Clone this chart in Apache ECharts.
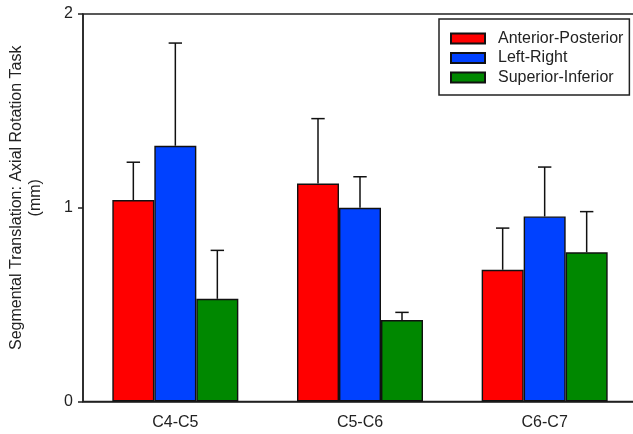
<!DOCTYPE html>
<html lang="en">
<head>
    <meta charset="UTF-8">
    <script src="https://cdn.jsdelivr.net/npm/echarts@6/dist/echarts.min.js"></script>
    <title>Segmental Translation</title>
    <style>
        html, body { margin: 0; padding: 0; background: #fff; }
    </style>
</head>
<body>
<div id="main" style="width: 633px;height:434px;"></div>
<script type="text/javascript">
    // data
    var categories = ['C4-C5', 'C5-C6', 'C6-C7'];
    var seriesNames = ['Anterior-Posterior', 'Left-Right', 'Superior-Inferior'];
    var apMean = [1.04, 1.125, 0.68];
    var apErr = [0.195, 0.335, 0.215];
    var lrMean = [1.32, 1.00, 0.955];
    var lrErr = [0.53, 0.16, 0.255];
    var siMean = [0.53, 0.42, 0.77];
    var siErr = [0.25, 0.04, 0.21];
    var yTicks = [0, 1, 2];

    var colors = ['#ff0000', '#0041ff', '#008800'];
    var fontName = 'Liberation Sans, Arial, sans-serif';
    var barW = 42;

    var myChart = echarts.init(document.getElementById('main'));

    function errSeries(means, errs, offset) {
        var data = [];
        for (var i = 0; i < means.length; i++) {
            data.push([i, means[i], means[i] + errs[i]]);
        }
        return {
            type: 'custom',
            z: 5,
            data: data,
            encode: { x: 0, y: [1, 2] },
            renderItem: function (params, api) {
                var lo = api.coord([api.value(0), api.value(1)]);
                var hi = api.coord([api.value(0), api.value(2)]);
                var x = lo[0] + offset;
                var cap = 6.7;
                var st = { stroke: '#111', lineWidth: 1.5, fill: null };
                return {
                    type: 'group',
                    children: [
                        { type: 'line', shape: { x1: x, y1: lo[1], x2: x, y2: hi[1] }, style: st },
                        { type: 'line', shape: { x1: x - cap, y1: hi[1], x2: x + cap, y2: hi[1] }, style: st }
                    ]
                };
            }
        };
    }

    function barSeries(name, values, color) {
        return {
            name: name,
            type: 'bar',
            data: values,
            barWidth: barW,
            barGap: '0%',
            itemStyle: { color: color, borderColor: '#111', borderWidth: 1.4 }
        };
    }

    var option = {
        animation: false,
        backgroundColor: '#fff',
        textStyle: { fontFamily: fontName },
        grid: {
            left: 83, width: 554, top: 14, bottom: 32.5,
            outerBoundsMode: 'none',
            show: true, borderColor: '#222', borderWidth: 1.5, backgroundColor: 'transparent'
        },
        legend: {
            data: seriesNames,
            orient: 'vertical',
            left: 439,
            top: 19,
            itemWidth: 34,
            itemHeight: 10,
            itemGap: 3.5,
            padding: [11.5, 6, 9.5, 11],
            borderColor: '#222',
            borderWidth: 1.5,
            icon: 'rect',
            textStyle: { fontSize: 16, color: '#222', fontFamily: fontName, padding: [0, 0, 0, 8] }
        },
        xAxis: {
            type: 'category',
            data: categories,
            axisLine: { lineStyle: { color: '#222', width: 1.5 } },
            axisTick: { alignWithLabel: true, length: 6, lineStyle: { color: '#222', width: 1.5 } },
            axisLabel: { fontSize: 16, color: '#222', margin: 13, fontFamily: fontName }
        },
        yAxis: {
            type: 'value',
            min: yTicks[0],
            max: yTicks[yTicks.length - 1],
            interval: 1,
            name: 'Segmental Translation: Axial Rotation Task\n(mm)',
            nameLocation: 'middle',
            nameGap: 38,
            nameTextStyle: { fontSize: 16, color: '#222', lineHeight: 19, fontFamily: fontName, padding: [0, 0, 0, 20] },
            splitLine: { show: false },
            axisLine: { show: true, lineStyle: { color: '#222', width: 1.5 } },
            axisTick: { show: true, length: 5, lineStyle: { color: '#222', width: 1.5 } },
            axisLabel: { fontSize: 16, color: '#222', margin: 10, fontFamily: fontName }
        },
        series: [
            barSeries(seriesNames[0], apMean, colors[0]),
            barSeries(seriesNames[1], lrMean, colors[1]),
            barSeries(seriesNames[2], siMean, colors[2]),
            errSeries(apMean, apErr, -barW),
            errSeries(lrMean, lrErr, 0),
            errSeries(siMean, siErr, barW)
        ]
    };
    myChart.setOption(option);
</script>
</body>
</html>
